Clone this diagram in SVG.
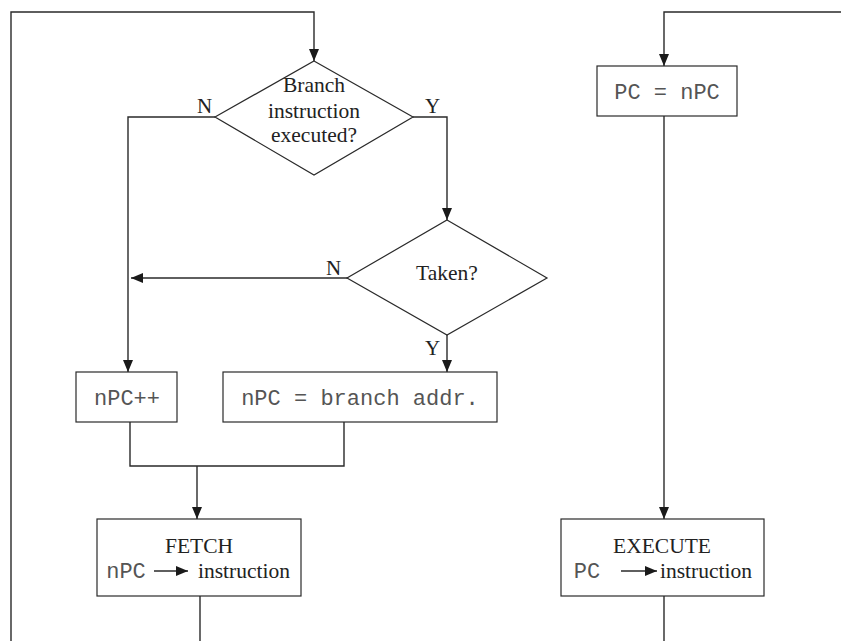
<svg xmlns="http://www.w3.org/2000/svg" width="841" height="641" viewBox="0 0 841 641">
<defs>
<marker id="ah" markerWidth="12" markerHeight="10" refX="12" refY="5" orient="auto" markerUnits="userSpaceOnUse">
<path d="M0,0 L12,5 L0,10 Z" fill="#1a1a1a"/>
</marker>
</defs>
<style>
.ln{fill:none;stroke:#2a2a2a;stroke-width:1.4}
.arr{fill:none;stroke:#2a2a2a;stroke-width:1.4;marker-end:url(#ah)}
.box{fill:#fff;stroke:#2a2a2a;stroke-width:1.2}
.sf{font-family:"Liberation Serif","Times New Roman",serif;font-size:21.5px;fill:#222;text-anchor:middle}
.mono{font-family:"Liberation Mono","Courier New",monospace;font-size:22px;fill:#555;text-anchor:middle}
.lbl{font-family:"Liberation Serif","Times New Roman",serif;font-size:21px;fill:#222}
</style>
<g id="connectors">
<path class="arr" d="M11,641 V12 H314 V61"/>
<path class="arr" d="M215,117 H128 V372"/>
<path class="arr" d="M413,117 H447 V220"/>
<path class="arr" d="M348,278 H131"/>
<path class="arr" d="M447,335 V372"/>
<path class="ln" d="M130,422 V466 H344 V422"/>
<path class="arr" d="M197,466 V519"/>
<path class="ln" d="M200,596 V641"/>
<path class="arr" d="M841,12 H664 V66"/>
<path class="arr" d="M664,116 V519"/>
<path class="ln" d="M664,596 V641"/>
<text class="lbl" x="197" y="113">N</text>
<text class="lbl" x="425" y="113">Y</text>
<text class="lbl" x="326" y="275">N</text>
<text class="lbl" x="425" y="355">Y</text>
</g>
<g id="branch-executed">
<path class="box" d="M314,61 L413,117 L314,175 L215,117 Z"/>
<text class="sf" x="314" y="92">Branch</text>
<text class="sf" x="314" y="118">instruction</text>
<text class="sf" x="314" y="142">executed?</text>
</g>
<g id="taken">
<path class="box" d="M447,220 L547,278 L447,335 L347,278 Z"/>
<text class="sf" x="447" y="280">Taken?</text>
</g>
<g id="npc-inc">
<rect class="box" x="76" y="372" width="101" height="50"/>
<text class="mono" x="127" y="405">nPC++</text>
</g>
<g id="npc-branch">
<rect class="box" x="223" y="372" width="274" height="50"/>
<text class="mono" x="360" y="405">nPC = branch addr.</text>
</g>
<g id="fetch">
<rect class="box" x="97" y="519" width="204" height="77"/>
<text class="sf" x="199" y="553">FETCH</text>
<text class="mono" x="126" y="578">nPC</text>
<line class="arr" x1="154" y1="571" x2="188" y2="571"/>
<text class="sf" x="244" y="578">instruction</text>
</g>
<g id="pc-npc">
<rect class="box" x="597" y="66" width="140" height="50"/>
<text class="mono" x="667" y="99">PC = nPC</text>
</g>
<g id="execute">
<rect class="box" x="561" y="519" width="203" height="77"/>
<text class="sf" x="662" y="553">EXECUTE</text>
<text class="mono" x="587" y="578">PC</text>
<line class="arr" x1="621" y1="571" x2="657" y2="571"/>
<text class="sf" x="706" y="578">instruction</text>
</g>
</svg>
